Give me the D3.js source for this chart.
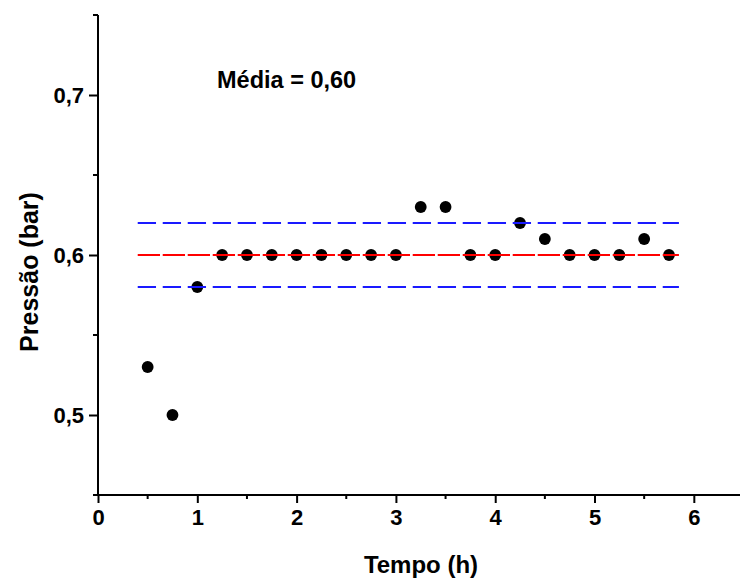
<!DOCTYPE html>
<html><head><meta charset="utf-8">
<script src="https://cdn.jsdelivr.net/npm/d3@7"></script>
<style>body{margin:0;background:#fff}svg{display:block}text{font-family:"Liberation Sans",Arial,sans-serif;font-weight:bold;fill:#000}</style>
</head><body><svg id="c" width="740" height="579"></svg>
<script>
const tempo = [0.5,0.75,1.0,1.25,1.5,1.75,2.0,2.25,2.5,2.75,3.0,3.25,3.5,3.75,4.0,4.25,4.5,4.75,5.0,5.25,5.5,5.75];
const pressao = [0.53,0.50,0.58,0.60,0.60,0.60,0.60,0.60,0.60,0.60,0.60,0.63,0.63,0.60,0.60,0.62,0.61,0.60,0.60,0.60,0.61,0.60];
const media = 0.60;
const limites = [0.62, 0.58];
const linhaX = [0.4, 5.85];
const xTicks = [0,1,2,3,4,5,6];
const xMinor = [0.5,1.5,2.5,3.5,4.5,5.5];
const yTicks = [0.5,0.6,0.7];
const yMinor = [0.45,0.55,0.65,0.75];

const svg = d3.select("#c");
const x = d3.scaleLinear().domain([0, 6.465]).range([98, 740]);
const y = d3.scaleLinear().domain([0.45, 0.75]).range([495, 15]);

// points
svg.append("g").selectAll("circle").data(tempo).join("circle")
  .attr("cx", d => x(d)).attr("cy", (d,i) => y(pressao[i])).attr("r", 5.9).attr("fill", "#000");

// reference lines
const line = d3.line().x(d => x(d[0])).y(d => y(d[1]));
limites.forEach(v => {
  svg.append("path").attr("d", line(linhaX.map(t => [t, v])))
    .attr("stroke", "#1a1aff").attr("stroke-width", 2).attr("stroke-dasharray", "18.3,6.7").attr("fill", "none");
});
svg.append("path").attr("d", line(linhaX.map(t => [t, media])))
  .attr("stroke", "#ff0000").attr("stroke-width", 2).attr("stroke-dasharray", "22.3,2.7").attr("fill", "none");

// axes
const xAxis = svg.append("g").attr("transform", `translate(0,${y(0.45)})`)
  .call(d3.axisBottom(x).tickValues(xTicks).tickFormat(d3.format("d")).tickSize(8).tickSizeOuter(0).tickPadding(6));
xAxis.select(".domain").attr("d", `M93,0H740`);
xAxis.append("g").selectAll("line").data(xMinor).join("line")
  .attr("x1", d => x(d)).attr("x2", d => x(d)).attr("y1", 0).attr("y2", 4).attr("stroke", "#000").attr("stroke-width", 2);

const yAxis = svg.append("g").attr("transform", `translate(${x(0)},0)`)
  .call(d3.axisLeft(y).tickValues(yTicks).tickFormat(d => d3.format(".1f")(d).replace(".", ",")).tickSize(9).tickSizeOuter(0).tickPadding(5));
yAxis.select(".domain").attr("d", `M0,${y(0.75)}V${y(0.45)+1}`);
yAxis.append("g").selectAll("line").data(yMinor).join("line")
  .attr("x1", 0).attr("x2", -5).attr("y1", d => y(d)).attr("y2", d => y(d)).attr("stroke", "#000").attr("stroke-width", 2);

svg.selectAll(".domain").attr("stroke", "#000").attr("stroke-width", 2);
svg.selectAll(".tick line").attr("stroke", "#000").attr("stroke-width", 2);
svg.selectAll(".tick text").style("font-size", "22px").style("font-family", '"Liberation Sans",Arial,sans-serif').style("font-weight", "bold").attr("fill", "#000");

// titles
svg.append("text").attr("x", 421).attr("y", 573).attr("text-anchor", "middle").style("font-size", "24px").text("Tempo (h)");
svg.append("text").attr("transform", "translate(38,272) rotate(-90)").attr("text-anchor", "middle").style("font-size", "25px").text("Pressão (bar)");
svg.append("text").attr("x", 217).attr("y", 88).style("font-size", "23.5px").text("Média = " + d3.format(".2f")(media).replace(".", ","));
</script></body></html>
